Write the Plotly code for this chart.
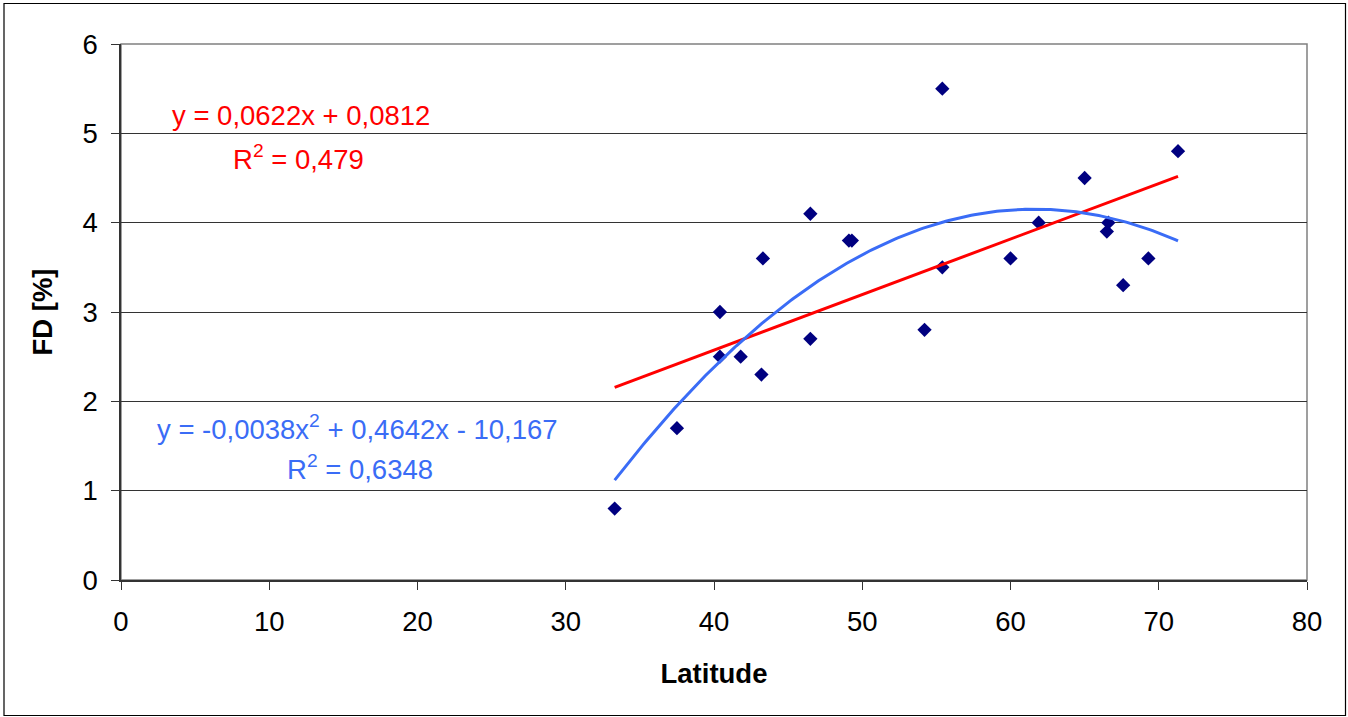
import numpy as np
import plotly.graph_objects as go

# Data
latitude = [33.3, 37.5, 40.4, 40.4, 41.8, 43.2, 43.3, 46.5, 46.5, 49.1, 49.3,
            54.2, 55.4, 55.4, 60.0, 61.9, 65.0, 66.6, 66.5, 67.6, 69.3, 71.3]
fd = [0.8, 1.7, 3.0, 2.5, 2.5, 2.3, 3.6, 4.1, 2.7, 3.8, 3.8,
      2.8, 5.5, 3.5, 3.6, 4.0, 4.5, 4.0, 3.9, 3.3, 3.6, 4.8]

# Trendline labels as printed on the chart
lin_label = ["y = 0,0622x + 0,0812", "R<sup>2</sup> = 0,479"]
poly_label = ["y = -0,0038x<sup>2</sup> + 0,4642x - 10,167", "R<sup>2</sup> = 0,6348"]

x_ticks = [0, 10, 20, 30, 40, 50, 60, 70, 80]
y_ticks = [0, 1, 2, 3, 4, 5, 6]

# Trendlines fitted to the data (as the spreadsheet did)
lin_coef = np.polyfit(latitude, fd, 1)
poly_coef = np.polyfit(latitude, fd, 2)
xs = np.linspace(min(latitude), max(latitude), 200)
y_lin = np.polyval(lin_coef, xs)
y_poly = np.polyval(poly_coef, xs)

FONT = "Liberation Sans, Arial, sans-serif"
FS = 27.5
RED = "#FF0000"
BLUE = "#3A6CF6"

fig = go.Figure()
fig.add_trace(go.Scatter(x=latitude, y=fd, mode="markers",
                         marker=dict(symbol="diamond", size=11, color="#000080"),
                         showlegend=False))
fig.add_trace(go.Scatter(x=xs, y=y_lin, mode="lines",
                         line=dict(color=RED, width=3), showlegend=False))
fig.add_trace(go.Scatter(x=xs, y=y_poly, mode="lines",
                         line=dict(color=BLUE, width=3), showlegend=False))

# Equation labels
fig.add_annotation(x=12.14, y=5.2, text=lin_label[0], showarrow=False,
                   font=dict(family=FONT, size=FS, color=RED))
fig.add_annotation(x=12.0, y=4.73, text=lin_label[1], showarrow=False,
                   font=dict(family=FONT, size=FS, color=RED))
fig.add_annotation(x=15.98, y=1.71, text=poly_label[0], showarrow=False,
                   font=dict(family=FONT, size=FS, color=BLUE))
fig.add_annotation(x=16.12, y=1.26, text=poly_label[1], showarrow=False,
                   font=dict(family=FONT, size=FS, color=BLUE))

# Plot area border (gray) and outer chart border
fig.add_shape(type="rect", xref="paper", yref="paper", x0=0, y0=0, x1=1, y1=1,
              line=dict(color="#808080", width=1.5), layer="below")
pw = 1307 - 121
ph = 580 - 44
fig.add_shape(type="rect", xref="paper", yref="paper",
              x0=(4 - 121) / pw, x1=(1345.5 - 121) / pw,
              y0=(580 - 715.5) / ph, y1=(580 - 3.5) / ph,
              line=dict(color="#000000", width=1.2), layer="below")

fig.update_layout(
    width=1348, height=717,
    margin=dict(l=121, r=41, t=44, b=137),
    paper_bgcolor="white", plot_bgcolor="white",
    font=dict(family=FONT, size=FS, color="black"),
    xaxis=dict(range=[0, 80], tickvals=x_ticks, showgrid=False,
               showline=True, linecolor="#333333", linewidth=1.5,
               ticks="outside", ticklen=8, tickcolor="#333333",
               ticklabelstandoff=8,
               tickfont=dict(size=FS), zeroline=False,
               title=dict(text="<b>Latitude</b>", font=dict(size=FS), standoff=28)),
    yaxis=dict(range=[0, 6], tickvals=y_ticks, showgrid=True,
               gridcolor="#333333", gridwidth=1,
               showline=True, linecolor="#333333", linewidth=1.5,
               ticks="outside", ticklen=8, tickcolor="#333333",
               ticklabelstandoff=8,
               tickfont=dict(size=FS), zeroline=False,
               title=dict(text="<b>FD [%]</b>", font=dict(size=FS), standoff=22)),
)

fig.write_html("out.html", config={"displayModeBar": False},
               post_script="document.body.style.margin='0';document.body.style.overflow='hidden';")
